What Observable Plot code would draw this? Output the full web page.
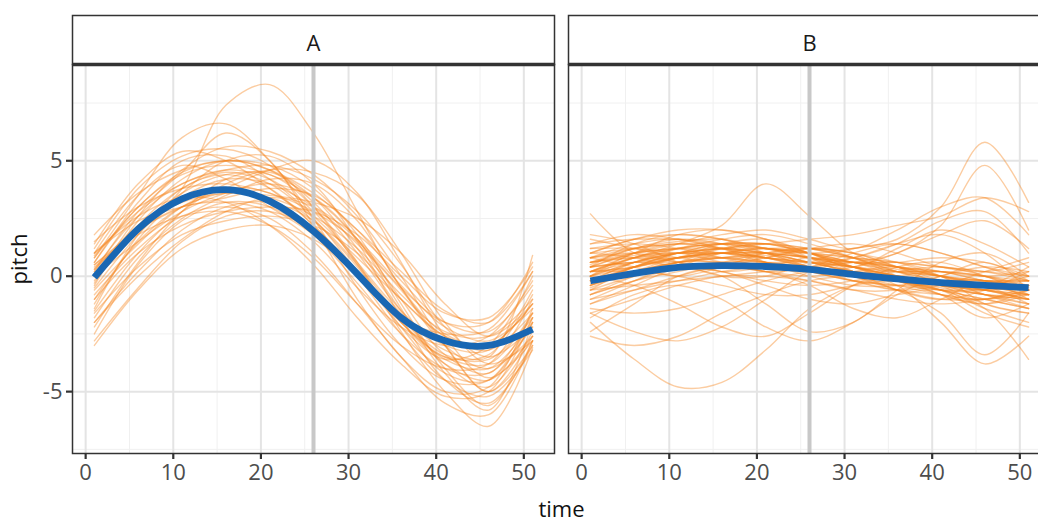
<!DOCTYPE html>
<html><head><meta charset="utf-8">
<script src="https://cdn.jsdelivr.net/npm/d3@7"></script>
<script src="https://cdn.jsdelivr.net/npm/@observablehq/plot@0.6"></script>
<style>
html,body{margin:0;padding:0;background:#fff;overflow:hidden;}
#wrap{width:1038px;height:521px;overflow:hidden;}
#wrap svg{max-width:none !important;width:1060px !important;height:521px !important;}
g[aria-label="x-axis label"], g[aria-label="y-axis label"]{fill:#111;}
</style></head><body><div id="wrap"></div>
<script>
const times = [1, 6, 11, 16, 21, 26, 31, 36, 41, 46, 51];
const panels = ["A", "B"];
const xTicks = [0, 10, 20, 30, 40, 50];
const xMinor = [5, 15, 25, 35, 45];
const yTicks = [-5, 0, 5];
const yMinor = [-7.5, -2.5, 2.5, 7.5];
const markerTime = 26;
const xDomain = [-1.5, 53.5];
const yDomain = [-7.68, 9.17];

const meanA = [-0.05, 2.05, 3.35, 3.75, 3.25, 1.95, 0.1, -1.8, -2.8, -3.0, -2.3];
const meanB = [-0.2, 0.12, 0.38, 0.46, 0.42, 0.3, 0.08, -0.12, -0.28, -0.4, -0.5];

const curvesA = [
  [-0.3, 2.2, 3.8, 4.5, 4.0, 2.5, 0.2, -2.0, -3.5, -3.8, -1.6],
  [0.8, 3.0, 4.5, 5.0, 4.6, 3.2, 1.0, -1.5, -3.0, -3.2, -0.6],
  [-2.5, 0.5, 2.4, 3.2, 3.0, 1.8, -0.3, -2.5, -4.0, -4.2, -2.2],
  [1.2, 3.8, 5.2, 5.5, 4.8, 3.0, 0.5, -2.2, -4.2, -4.5, -2.0],
  [-1.0, 1.5, 3.0, 3.6, 3.4, 2.6, 1.2, -0.8, -2.4, -2.6, -1.0],
  [0.2, 2.8, 4.5, 6.2, 5.0, 2.2, -1.0, -3.5, -5.0, -4.8, -1.4],
  [-1.8, 0.8, 2.5, 3.5, 4.2, 4.0, 2.4, -0.5, -3.0, -4.0, -2.6],
  [0.5, 2.0, 3.0, 3.2, 2.8, 1.5, -0.5, -2.2, -3.0, -2.6, -0.2],
  [-0.5, 1.8, 3.6, 5.0, 5.2, 4.0, 1.5, -1.8, -4.5, -5.5, -3.0],
  [1.0, 3.5, 4.8, 4.2, 3.0, 1.8, 0.0, -1.8, -2.5, -2.3, 0.2],
  [-2.0, 0.2, 2.0, 3.0, 3.2, 2.4, 0.5, -1.8, -3.6, -4.0, -2.0],
  [0.5, 2.0, 3.8, 7.4, 8.3, 6.2, 2.8, -0.5, -2.5, -3.0, -1.2],
  [0.8, 3.5, 6.0, 6.6, 5.0, 2.5, -0.5, -3.0, -4.5, -4.5, -1.8],
  [-1.5, 1.0, 2.8, 4.0, 4.6, 4.5, 3.5, 1.0, -2.0, -3.8, -2.8],
  [1.5, 3.0, 3.8, 4.0, 3.6, 2.8, 1.5, -0.5, -2.0, -2.0, 0.6],
  [-2.8, -0.5, 1.5, 2.6, 2.8, 2.0, 0.0, -2.5, -4.5, -5.2, -3.2],
  [0.3, 2.6, 4.0, 4.6, 4.8, 4.2, 2.8, 0.5, -2.2, -3.5, -2.2],
  [-0.8, 1.2, 2.6, 3.0, 2.5, 1.0, -1.2, -3.5, -5.5, -6.0, -2.8],
  [0.6, 3.2, 5.0, 5.2, 4.2, 2.6, 0.8, -1.0, -2.6, -3.2, -1.6],
  [-1.2, 1.6, 3.4, 4.2, 4.0, 3.0, 1.4, -0.6, -3.0, -5.0, -3.0],
  [1.0, 2.4, 3.0, 3.4, 3.8, 3.5, 2.0, -0.2, -2.0, -2.4, -0.4],
  [-2.2, 0.6, 2.8, 4.2, 4.5, 3.4, 1.2, -1.5, -3.8, -4.8, -2.4],
  [0.4, 1.8, 2.6, 2.8, 2.2, 0.8, -1.2, -3.0, -4.0, -3.8, -1.0],
  [-0.4, 2.4, 4.2, 5.0, 4.6, 3.6, 2.0, 0.2, -1.5, -2.0, 0.2],
  [1.4, 4.0, 5.4, 5.0, 3.8, 2.2, 0.2, -2.0, -3.8, -4.5, -2.6],
  [-1.6, 0.4, 1.8, 2.4, 2.6, 2.2, 1.0, -1.0, -2.6, -3.0, -1.2],
  [0.0, 2.0, 3.6, 4.4, 4.4, 3.0, 0.6, -2.4, -5.0, -6.5, -3.1],
  [-0.6, 1.4, 3.0, 3.8, 3.6, 2.4, 0.4, -2.0, -3.5, -3.4, -0.8],
  [0.9, 2.8, 4.0, 4.6, 4.2, 2.8, 0.6, -1.6, -3.2, -3.5, 0.9],
  [-2.0, 0.0, 1.6, 2.8, 3.4, 3.0, 1.6, -0.4, -2.2, -2.8, -1.4],
  [0.2, 2.2, 3.2, 3.6, 3.5, 3.2, 2.5, 1.0, -1.2, -2.6, -1.2],
  [-0.2, 2.6, 4.6, 5.6, 5.4, 4.4, 2.6, 0.0, -3.0, -5.0, -2.6],
  [1.0, 2.6, 3.4, 3.2, 2.2, 0.5, -1.8, -3.8, -5.2, -5.0, -1.8],
  [-1.0, 1.0, 2.2, 2.8, 3.0, 2.8, 1.8, 0.0, -1.6, -1.8, 0.4],
  [0.6, 3.0, 4.4, 4.8, 4.4, 3.4, 1.6, -1.0, -3.4, -4.2, -1.6],
  [-3.0, -0.6, 1.2, 2.0, 2.2, 1.6, 0.2, -1.8, -3.4, -3.6, -1.8],
  [1.8, 3.6, 4.6, 5.0, 4.8, 3.8, 1.8, -1.2, -4.0, -5.6, -2.8],
  [0.0, 1.5, 2.8, 3.6, 4.0, 3.4, 1.6, -1.4, -4.2, -5.8, -2.0],
  [-1.4, 1.8, 3.8, 4.4, 3.8, 2.2, 0.2, -2.2, -3.6, -3.0, 0.0],
  [0.3, 2.0, 3.0, 3.8, 4.6, 5.0, 3.6, 0.6, -2.6, -4.4, -2.8]
];

const curvesB = [
  [2.7, 1.0, 0.8, 1.2, 1.0, 0.6, 0.2, 0.0, -0.2, -0.4, -0.6],
  [0.5, 1.2, 1.5, 1.6, 1.2, 0.8, 0.6, 0.3, 0.0, -0.3, -0.2],
  [-0.5, 0.2, 0.6, 0.8, 0.9, 0.6, 0.2, -0.2, -0.5, -0.8, -1.0],
  [-2.0, -3.6, -4.8, -4.6, -3.2, -1.4, -0.4, 0.0, 0.2, 0.0, -0.5],
  [0.2, 0.8, 1.4, 2.2, 4.0, 2.6, 1.0, 0.4, 0.2, -0.2, -0.6],
  [1.0, 1.6, 1.8, 1.6, 1.2, 1.0, 1.2, 1.6, 3.0, 5.8, 3.2],
  [-1.0, -0.6, -0.2, 0.2, 0.4, 0.2, -0.2, -0.6, -0.8, -1.0, -0.6],
  [0.0, 0.6, 1.0, 1.2, 1.4, 1.6, 1.8, 2.2, 2.6, 3.4, 2.8],
  [-1.6, -2.4, -2.8, -2.2, -1.0, 0.2, 0.6, 0.4, 0.0, -0.4, -0.8],
  [0.8, 1.0, 0.6, 0.2, 0.4, 0.8, 0.6, 0.0, -0.4, -0.6, -0.4],
  [-0.3, 0.4, 1.0, 1.0, 0.6, 0.2, -0.2, -0.4, -0.6, -0.8, -1.2],
  [0.4, 0.6, 0.4, 0.0, -1.2, -2.4, -2.0, -0.6, 0.6, 1.0, 0.0],
  [-2.4, -1.2, 0.0, 0.4, 0.2, 0.0, 0.2, 0.4, 0.0, -1.2, -1.6],
  [1.2, 1.4, 1.2, 0.8, 0.4, 0.2, 0.4, 1.0, 1.8, 2.4, 1.2],
  [-0.8, -0.2, 0.4, 0.6, 0.6, 0.4, 0.0, -0.6, -1.6, -3.4, -1.6],
  [0.6, 0.9, 1.0, 1.0, 0.8, 0.4, 0.0, -0.2, -0.2, -0.4, -0.8],
  [-1.2, -0.6, 0.0, 0.4, 0.2, -0.4, -1.4, -1.8, -1.0, -0.2, -0.6],
  [0.2, 0.4, 0.8, 1.4, 1.6, 1.0, 0.4, 1.2, 2.0, 1.4, 0.4],
  [-0.6, 0.0, 0.4, 0.2, -0.4, -1.0, -1.2, -0.8, -0.6, -1.4, -2.0],
  [1.6, 1.2, 0.8, 0.6, 0.8, 1.2, 1.4, 1.0, 0.4, 0.2, 0.6],
  [0.0, 0.8, 1.2, 1.4, 1.2, 1.0, 0.6, 0.2, -0.2, -0.6, -1.0],
  [-1.8, -0.8, -0.4, -1.0, -2.2, -2.8, -2.0, -0.8, 0.0, 0.4, 0.2],
  [0.4, 1.0, 1.4, 1.8, 2.0, 1.6, 1.2, 2.0, 3.0, 3.4, 1.8],
  [-0.4, 0.4, 0.8, 0.8, 0.6, 0.4, 0.2, 0.0, -0.4, -0.8, -0.8],
  [0.8, 0.4, 0.0, 0.4, 1.0, 1.2, 0.8, 0.0, -0.8, -1.2, -0.6],
  [-1.4, -1.6, -1.4, -0.8, -0.2, 0.2, 0.2, -0.4, -2.0, -3.8, -2.6],
  [0.2, 0.8, 1.0, 0.6, 0.2, 0.4, 1.0, 1.4, 1.0, 0.4, -0.2],
  [-0.2, 0.6, 1.2, 1.6, 1.8, 1.4, 0.8, 0.2, -0.2, -0.4, -0.4],
  [1.0, 1.2, 1.4, 1.4, 1.0, 0.4, -0.2, -0.6, -0.4, 0.2, 0.8],
  [-2.6, -3.0, -2.6, -1.6, -0.8, -0.2, 0.0, -0.2, -0.6, -1.0, -1.4],
  [0.6, 1.2, 1.6, 1.4, 0.6, 0.0, -0.4, -0.4, 0.0, 0.6, -0.2],
  [-0.8, -0.2, 0.2, 0.6, 1.0, 1.2, 1.0, 0.4, -0.4, -1.2, -1.6],
  [0.2, 0.2, 0.0, -0.4, -0.8, -0.8, -0.4, -0.2, -0.6, -1.6, -2.2],
  [1.4, 1.6, 1.6, 1.4, 1.2, 1.0, 0.8, 0.6, 0.4, 0.2, 0.0],
  [-0.2, 0.4, 0.8, 1.0, 0.8, 0.4, 0.0, -0.4, -0.8, -1.0, -0.4],
  [0.0, -0.4, -1.2, -2.2, -2.6, -1.6, -0.4, 0.4, 0.6, 0.0, -0.6],
  [0.8, 1.4, 1.6, 1.2, 0.6, 0.4, 0.8, 1.4, 1.8, 1.0, -0.6],
  [-1.0, -0.2, 0.6, 1.2, 1.4, 1.0, 0.2, -0.6, -1.0, -0.6, 0.2],
  [0.4, 0.6, 0.8, 1.0, 1.2, 1.2, 1.0, 0.6, 0.0, -0.8, -1.2],
  [-0.4, 0.2, 0.6, 0.6, 0.2, -0.2, -0.6, -0.6, -0.2, -0.2, -1.0],
  [1.8, 1.4, 0.6, 0.0, 0.0, 0.6, 1.2, 1.4, 1.0, 0.4, 0.0],
  [-1.2, -0.4, 0.4, 1.0, 1.2, 0.8, 0.2, -0.2, -0.8, -1.8, -1.2],
  [0.2, 1.0, 1.8, 2.0, 1.6, 0.8, 0.0, -0.6, -1.0, -1.0, -0.8],
  [-0.6, -0.4, -0.2, 0.0, 0.2, 0.4, 0.6, 1.0, 2.2, 4.8, 2.0],
  [0.6, 0.8, 0.6, 0.2, -0.2, -0.4, -0.2, 0.2, 0.4, 0.0, -0.8],
  [-0.2, 0.4, 1.0, 1.4, 1.4, 1.0, 0.6, 0.6, 0.8, 0.6, 0.0],
  [1.0, 0.8, 0.4, 0.4, 0.8, 1.2, 1.0, 0.4, -0.2, -0.8, -1.4],
  [-1.6, -1.0, -0.4, 0.0, 0.0, -0.2, -0.6, -1.0, -1.2, -1.0, -0.6],
  [0.4, 1.0, 1.2, 1.2, 1.0, 0.6, 0.2, -0.2, -0.6, -1.4, -3.6],
  [-0.4, 0.2, 0.8, 1.0, 0.8, 0.6, 0.8, 1.4, 2.4, 2.8, 1.0],
  [0.6, 1.0, 1.2, 1.0, 0.8, 0.6, 0.4, 0.2, 0.0, -0.2, -0.4],
  [0.2, 0.8, 1.2, 1.4, 1.2, 0.8, 0.4, 0.0, -0.4, -0.6, -0.8],
  [1.2, 1.2, 1.0, 1.0, 1.0, 0.8, 0.4, 0.0, -0.2, -0.2, -0.2],
  [-0.2, 0.6, 1.0, 1.2, 1.0, 0.8, 0.6, 0.4, 0.0, -0.4, 0.4],
  [0.4, 1.4, 1.8, 1.6, 1.0, 0.4, 0.0, -0.2, -0.4, -0.6, -1.0],
  [0.0, 0.4, 0.8, 1.0, 1.0, 0.8, 0.4, 0.2, 0.2, 0.0, -0.4],
  [0.8, 1.2, 1.4, 1.2, 1.0, 0.6, 0.2, -0.2, -0.6, -1.0, -1.4],
  [-0.4, 0.2, 0.6, 0.8, 0.8, 0.6, 0.4, 0.0, -0.4, -0.4, 0.0],
  [1.0, 1.6, 2.0, 2.0, 1.6, 1.0, 0.4, 0.0, -0.2, -0.2, -0.6],
  [0.2, 0.6, 1.0, 1.2, 1.4, 1.2, 0.8, 0.4, 0.0, -0.2, -0.2],
  [-0.8, 0.0, 0.6, 0.8, 0.6, 0.2, -0.2, -0.4, -0.4, -0.6, -1.0],
  [0.6, 0.8, 1.0, 1.2, 1.2, 1.0, 0.6, 0.2, 0.0, -0.4, -1.2],
  [0.0, 1.0, 1.4, 1.2, 0.8, 0.6, 0.6, 0.4, 0.2, -0.2, -0.6],
  [0.4, 0.6, 0.6, 0.8, 1.0, 1.0, 0.8, 0.6, 0.2, 0.0, 0.2],
  [-0.6, 0.4, 1.0, 1.4, 1.4, 1.2, 0.8, 0.2, -0.4, -0.8, -1.0],
  [0.8, 1.0, 1.2, 1.4, 1.4, 1.0, 0.4, -0.2, -0.6, -0.6, -0.4],
  [0.2, 0.4, 0.8, 1.0, 1.0, 0.8, 0.6, 0.6, 0.4, 0.2, -0.2],
  [-0.2, 0.2, 0.6, 1.0, 1.2, 1.0, 0.4, -0.2, -0.8, -1.2, -0.8],
  [1.4, 1.8, 1.6, 1.2, 0.8, 0.4, 0.2, 0.2, 0.2, 0.0, -0.2],
  [0.0, 0.6, 1.0, 0.8, 0.6, 0.6, 0.4, 0.0, -0.2, -0.6, -0.8]
];

function curveRows(panel, curves) {
  const rows = [];
  curves.forEach((c, i) => c.forEach((v, j) => rows.push({panel, id: panel + i, t: times[j], v})));
  return rows;
}
const orangeRows = [...curveRows("A", curvesA), ...curveRows("B", curvesB)];
const meanRows = [
  ...meanA.map((v, j) => ({panel: "A", t: times[j], v})),
  ...meanB.map((v, j) => ({panel: "B", t: times[j], v}))
];

const panelH = 389;
const chart = Plot.plot({
  width: 1060,
  height: 521,
  marginLeft: 72,
  marginRight: 10,
  marginTop: 64,
  marginBottom: 68,
  style: {fontFamily: "'Open Sans', 'Noto Sans', sans-serif", background: "#fff"},
  fx: {domain: panels, paddingInner: 14 / 496, paddingOuter: 0},
  x: {domain: xDomain},
  y: {domain: yDomain},
  marks: [
    Plot.ruleX(xMinor, {stroke: "#f0f0f0", strokeWidth: 1}),
    Plot.ruleY(yMinor, {stroke: "#f0f0f0", strokeWidth: 1}),
    Plot.ruleX(xTicks, {stroke: "#e4e4e4", strokeWidth: 2}),
    Plot.ruleY(yTicks, {stroke: "#e4e4e4", strokeWidth: 2}),
    Plot.line(orangeRows, {x: "t", y: "v", z: "id", fx: "panel", stroke: "#f5851f", strokeOpacity: 0.42, strokeWidth: 1.4, curve: "catmull-rom"}),
    Plot.ruleX([markerTime], {stroke: "#c8c8c8", strokeWidth: 4}),
    Plot.line(meanRows, {x: "t", y: "v", fx: "panel", stroke: "#1967b3", strokeWidth: 6.8, curve: "natural", strokeLinecap: "butt"}),
    Plot.frame({stroke: "#333", strokeWidth: 1.5}),
    Plot.frame({stroke: "#333", strokeWidth: 1.5, insetTop: -49, insetBottom: panelH}),
    Plot.ruleY([yDomain[1]], {stroke: "#333", strokeWidth: 3.5}),
    Plot.axisFx({anchor: "top", tickSize: 0, tickPadding: 14, fontSize: 22, label: null, fill: "#1a1a1a"}),
    Plot.axisX({ticks: xTicks, tickSize: 6, tickPadding: 5, stroke: "#333", strokeWidth: 2.2, fill: "#4d4d4d", fontSize: 22, label: "time", labelArrow: "none", labelAnchor: "center", labelOffset: 63}),
    Plot.axisY({ticks: yTicks, tickSize: 6, tickPadding: 4, stroke: "#333", strokeWidth: 2.2, fill: "#4d4d4d", fontSize: 22, label: "pitch", labelArrow: "none", labelAnchor: "center", labelOffset: 61, tickFormat: d => d < 0 ? "-" + Math.abs(d) : String(d)})
  ]
});
document.getElementById("wrap").appendChild(chart);
</script></body></html>
